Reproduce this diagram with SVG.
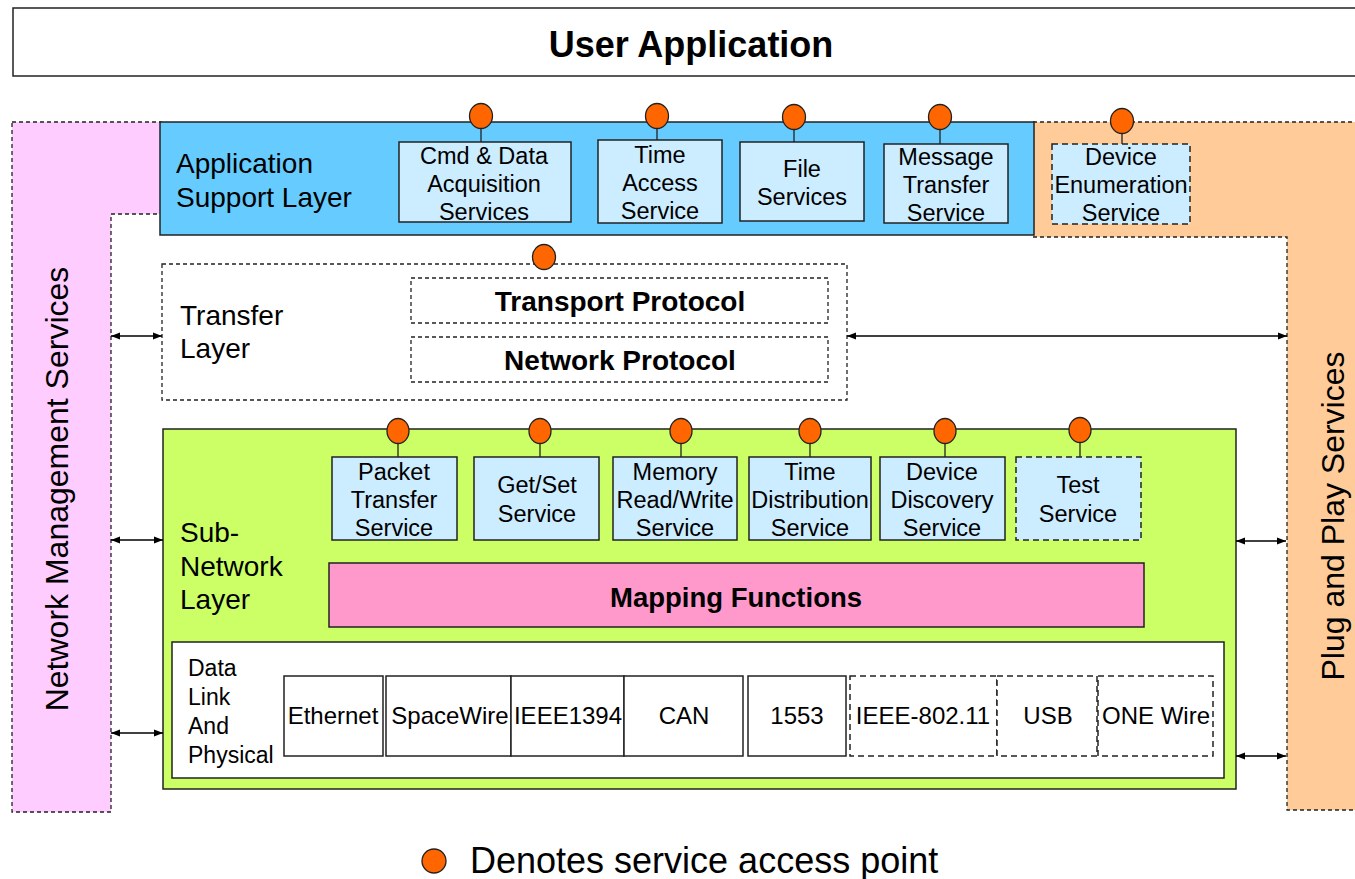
<svg xmlns="http://www.w3.org/2000/svg" width="1355" height="879" viewBox="0 0 1355 879">
<defs>
<style>
text{font-family:"Liberation Sans",Arial,sans-serif;fill:#000}
.box{stroke:#222;stroke-width:1.5}
.dash{stroke-dasharray:6,4}
.dash2{stroke-dasharray:4,3}
.svc{fill:#CCECFF;stroke:#222;stroke-width:1.5}
.t23{font-size:23.5px;text-anchor:middle}
.t24{font-size:24px;text-anchor:middle}
.lbl{font-size:28px}
.bold{font-weight:bold;text-anchor:middle}
.b28{font-size:28px}
.vert{font-size:32px;text-anchor:middle}
.sap{fill:#FF6600;stroke:#222;stroke-width:1.3}
.stub{stroke:#222;stroke-width:1.3}
.conn{stroke:#000;stroke-width:1.3;fill:none;marker-start:url(#ah);marker-end:url(#ah)}
</style>
<marker id="ah" viewBox="0 0 10 10" refX="10" refY="5" markerWidth="9" markerHeight="9" markerUnits="userSpaceOnUse" orient="auto-start-reverse">
<path d="M0,1 L10,5 L0,9 Z" fill="#000"/>
</marker>
</defs>
<rect width="1355" height="879" fill="#fff"/>

<g id="user-application">
<rect x="13" y="8" width="1350" height="68" fill="#fff" class="box"/>
<text x="691" y="57" class="bold" style="font-size:36px">User Application</text>
</g>

<g id="network-management">
<path d="M12,122 H161 V214 H111 V812 H12 Z" fill="#FFCCFF" stroke="#222" stroke-width="1.3" class="dash2"/>
<text transform="translate(68,489) rotate(-90)" class="vert">Network Management Services</text>
</g>

<g id="plug-and-play">
<path d="M1033,122 H1360 V810 H1287 V237 H1033 Z" fill="#FFCC99" stroke="#222" stroke-width="1.3" class="dash2"/>
<text transform="translate(1344,516) rotate(-90)" class="vert">Plug and Play Services</text>
</g>

<g id="application-support-layer">
<rect x="160" y="122" width="874" height="113" fill="#66CCFF" class="box"/>
<text x="176" y="173" class="lbl">Application</text>
<text x="176" y="207" class="lbl">Support Layer</text>
</g>

<g id="cmd-data">
<line x1="481" y1="128" x2="481" y2="142" class="stub"/>
<ellipse cx="481" cy="116" rx="11.5" ry="12.5" class="sap"/>
<rect x="399" y="142" width="172" height="80" class="svc"/>
<text x="484" y="164" class="t23">Cmd &amp; Data</text>
<text x="484" y="192" class="t23">Acquisition</text>
<text x="484" y="220" class="t23">Services</text>
</g>
<g id="time-access">
<line x1="657" y1="128" x2="657" y2="140" class="stub"/>
<ellipse cx="657" cy="116" rx="11.5" ry="12.5" class="sap"/>
<rect x="598" y="140" width="124" height="83" class="svc"/>
<text x="660" y="163" class="t23">Time</text>
<text x="660" y="191" class="t23">Access</text>
<text x="660" y="219" class="t23">Service</text>
</g>
<g id="file-services">
<line x1="794" y1="129" x2="794" y2="142" class="stub"/>
<ellipse cx="794" cy="117" rx="11.5" ry="12.5" class="sap"/>
<rect x="740" y="142" width="124" height="79" class="svc"/>
<text x="802" y="177" class="t23">File</text>
<text x="802" y="205" class="t23">Services</text>
</g>
<g id="message-transfer">
<line x1="940" y1="129" x2="940" y2="144" class="stub"/>
<ellipse cx="940" cy="117" rx="11.5" ry="12.5" class="sap"/>
<rect x="884" y="144" width="124" height="79" class="svc"/>
<text x="946" y="165" class="t23">Message</text>
<text x="946" y="193" class="t23">Transfer</text>
<text x="946" y="221" class="t23">Service</text>
</g>
<g id="device-enumeration">
<line x1="1122" y1="133" x2="1122" y2="144" class="stub"/>
<ellipse cx="1122" cy="121" rx="11.5" ry="12.5" class="sap"/>
<rect x="1052" y="144" width="138" height="80" class="svc dash"/>
<text x="1121" y="165" class="t23">Device</text>
<text x="1121" y="193" class="t23">Enumeration</text>
<text x="1121" y="221" class="t23">Service</text>
</g>

<g id="transfer-layer">
<rect x="162" y="264" width="685" height="136" fill="#fff" stroke="#222" stroke-width="1.3" class="dash2"/>
<ellipse cx="544" cy="257" rx="11.5" ry="12.5" class="sap"/>
<text x="180" y="325" class="lbl">Transfer</text>
<text x="180" y="358" class="lbl">Layer</text>
</g>
<g id="transport-protocol">
<rect x="411" y="278" width="417" height="45" fill="#fff" stroke="#222" stroke-width="1.3" class="dash2"/>
<text x="620" y="311" class="bold b28">Transport Protocol</text>
</g>
<g id="network-protocol">
<rect x="411" y="337" width="417" height="45" fill="#fff" stroke="#222" stroke-width="1.3" class="dash2"/>
<text x="620" y="370" class="bold b28">Network Protocol</text>
</g>

<g id="sub-network-layer">
<rect x="163" y="429" width="1073" height="360" fill="#CCFF66" class="box"/>
<text x="180" y="542" class="lbl">Sub-</text>
<text x="180" y="576" class="lbl">Network</text>
<text x="180" y="609" class="lbl">Layer</text>
</g>

<g id="packet-transfer">
<line x1="398" y1="443" x2="398" y2="457" class="stub"/>
<ellipse cx="398" cy="431" rx="11" ry="12.5" class="sap"/>
<rect x="332" y="457" width="125" height="83" class="svc"/>
<text x="394" y="480" class="t23">Packet</text>
<text x="394" y="508" class="t23">Transfer</text>
<text x="394" y="536" class="t23">Service</text>
</g>
<g id="get-set">
<line x1="540" y1="443" x2="540" y2="457" class="stub"/>
<ellipse cx="540" cy="431" rx="11" ry="12.5" class="sap"/>
<rect x="474" y="457" width="125" height="83" class="svc"/>
<text x="537" y="493" class="t23">Get/Set</text>
<text x="537" y="522" class="t23">Service</text>
</g>
<g id="memory-rw">
<line x1="681" y1="443" x2="681" y2="457" class="stub"/>
<ellipse cx="681" cy="431" rx="11" ry="12.5" class="sap"/>
<rect x="613" y="457" width="124" height="83" class="svc"/>
<text x="675" y="480" class="t23">Memory</text>
<text x="675" y="508" class="t23">Read/Write</text>
<text x="675" y="536" class="t23">Service</text>
</g>
<g id="time-distribution">
<line x1="810" y1="443" x2="810" y2="457" class="stub"/>
<ellipse cx="810" cy="431" rx="11" ry="12.5" class="sap"/>
<rect x="749" y="457" width="122" height="83" class="svc"/>
<text x="810" y="480" class="t23">Time</text>
<text x="810" y="508" class="t23">Distribution</text>
<text x="810" y="536" class="t23">Service</text>
</g>
<g id="device-discovery">
<line x1="945" y1="443" x2="945" y2="457" class="stub"/>
<ellipse cx="945" cy="431" rx="11" ry="12.5" class="sap"/>
<rect x="880" y="457" width="125" height="83" class="svc"/>
<text x="942" y="480" class="t23">Device</text>
<text x="942" y="508" class="t23">Discovery</text>
<text x="942" y="536" class="t23">Service</text>
</g>
<g id="test-service">
<line x1="1080" y1="442" x2="1080" y2="457" class="stub"/>
<ellipse cx="1080" cy="430" rx="11" ry="12.5" class="sap"/>
<rect x="1016" y="457" width="125" height="83" class="svc dash"/>
<text x="1078" y="493" class="t23">Test</text>
<text x="1078" y="522" class="t23">Service</text>
</g>

<g id="mapping-functions">
<rect x="329" y="563" width="815" height="64" fill="#FF99CC" class="box"/>
<text x="736" y="607" class="bold" style="font-size:27.5px">Mapping Functions</text>
</g>

<g id="data-link-physical">
<rect x="172" y="642" width="1052" height="136" fill="#fff" class="box"/>
<text x="188" y="676" style="font-size:23px">Data</text>
<text x="188" y="705" style="font-size:23px">Link</text>
<text x="188" y="734" style="font-size:23px">And</text>
<text x="188" y="763" style="font-size:23px">Physical</text>
</g>
<g id="ethernet"><rect x="284" y="676" width="99" height="80" fill="#fff" class="box"/><text x="333" y="724" class="t24">Ethernet</text></g>
<g id="spacewire"><rect x="386" y="676" width="125" height="80" fill="#fff" class="box"/><text x="450" y="724" class="t24">SpaceWire</text></g>
<g id="ieee1394"><rect x="511" y="676" width="113" height="80" fill="#fff" class="box"/><text x="568" y="724" class="t24">IEEE1394</text></g>
<g id="can"><rect x="624" y="676" width="119" height="80" fill="#fff" class="box"/><text x="684" y="724" class="t24">CAN</text></g>
<g id="mil1553"><rect x="748" y="676" width="98" height="80" fill="#fff" class="box"/><text x="797" y="724" class="t24">1553</text></g>
<g id="ieee80211"><rect x="850" y="676" width="147" height="80" fill="#fff" class="box dash"/><text x="923" y="724" class="t24">IEEE-802.11</text></g>
<g id="usb"><rect x="997" y="676" width="100" height="80" fill="#fff" class="box dash"/><text x="1048" y="724" class="t24">USB</text></g>
<g id="one-wire"><rect x="1098" y="676" width="115" height="80" fill="#fff" class="box dash"/><text x="1156" y="724" class="t24">ONE Wire</text></g>

<g id="connectors">
<line x1="111" y1="336" x2="162" y2="336" class="conn"/>
<line x1="847" y1="336" x2="1287" y2="336" class="conn"/>
<line x1="111" y1="540" x2="163" y2="540" class="conn"/>
<line x1="111" y1="733" x2="163" y2="733" class="conn"/>
<line x1="1236" y1="541" x2="1286" y2="541" class="conn"/>
<line x1="1236" y1="756" x2="1286" y2="756" class="conn"/>
</g>

<g id="legend">
<ellipse cx="434" cy="861" rx="12" ry="12" class="sap"/>
<text x="470" y="873" style="font-size:36px">Denotes service access point</text>
</g>
</svg>
